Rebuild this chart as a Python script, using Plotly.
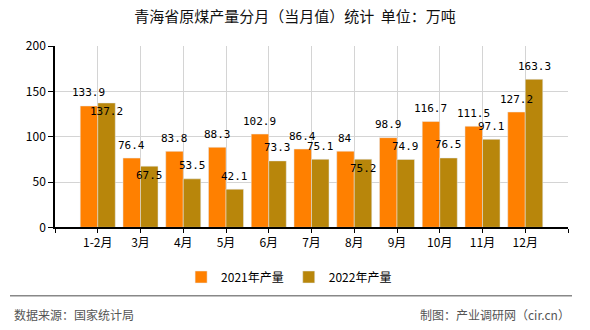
import plotly.graph_objects as go

categories = ["1-2月", "3月", "4月", "5月", "6月", "7月", "8月", "9月", "10月", "11月", "12月"]
prod_2021 = [133.9, 76.4, 83.8, 88.3, 102.9, 86.4, 84, 98.9, 116.7, 111.5, 127.2]
prod_2022 = [137.2, 67.5, 53.5, 42.1, 73.3, 75.1, 75.2, 74.9, 76.5, 97.1, 163.3]
series_names = ["2021年产量", "2022年产量"]
y_ticks = [0, 50, 100, 150, 200]

# label placement (style): labels drawn under the bar top for these 2022 points
below_2022 = {0, 1, 6}

W, H = 590, 330
L, R, T, B = 55, 22, 46, 101
pw, ph = W - L - R, H - T - B

def px_x(px):
    return (px - L) / pw

def px_y(py):
    return (H - B - py) / ph

xs = list(range(len(categories)))
c1, c2 = "#FF8000", "#B8860B"
cjk = "Noto Sans CJK SC"
mono = "DejaVu Sans Mono"

fig = go.Figure()
fig.add_trace(go.Bar(x=xs, y=prod_2021, name=series_names[0], marker_color=c1,
                     offsetgroup="a"))
fig.add_trace(go.Bar(x=xs, y=prod_2022, name=series_names[1], marker_color=c2,
                     offsetgroup="b"))

bargap = 0.18
half = (1 - bargap) / 4
annotations = []
for i, v in enumerate(prod_2021):
    annotations.append(dict(x=i - half, y=v, xref="x", yref="y", text=str(v),
                            showarrow=False, yshift=13, yanchor="middle",
                            font=dict(family=mono, size=11, color="#000")))
for i, v in enumerate(prod_2022):
    annotations.append(dict(x=i + half, y=v, xref="x", yref="y", text=str(v),
                            showarrow=False, yshift=(-9 if i in below_2022 else 13),
                            yanchor="middle",
                            font=dict(family=mono, size=11, color="#000")))

annotations.append(dict(x=px_x(12), y=px_y(317), xref="paper", yref="paper",
                        text="数据来源：国家统计局", showarrow=False,
                        xanchor="left", yanchor="middle",
                        font=dict(family=cjk, size=12, color="#555")))
annotations.append(dict(x=px_x(572), y=px_y(317), xref="paper", yref="paper",
                        text="制图：产业调研网（cir.cn）", showarrow=False,
                        xanchor="right", yanchor="middle",
                        font=dict(family=cjk, size=12, color="#555")))

shapes = [dict(type="line", xref="paper", yref="paper", x0=px_x(10), x1=px_x(572),
               y0=px_y(298), y1=px_y(298), line=dict(color="#888", width=1.5))]

fig.update_layout(
    width=W, height=H,
    margin=dict(l=L, r=R, t=T, b=B),
    paper_bgcolor="white", plot_bgcolor="white",
    barmode="group", bargap=bargap, bargroupgap=0,
    title=dict(text="青海省原煤产量分月（当月值）统计&nbsp;&nbsp;单位：万吨",
               x=0.5, xanchor="center", y=1 - 17 / H, yanchor="middle",
               yref="container",
               font=dict(family=cjk, size=15, color="#111")),
    showlegend=True,
    legend=dict(orientation="h", x=0.49, xanchor="center", xref="container",
                y=1 - 277 / H, yanchor="middle", yref="container",
                font=dict(family=cjk, size=12, color="#000"),
                itemwidth=30, traceorder="normal"),
    annotations=annotations,
    shapes=shapes,
)

fig.update_xaxes(
    range=[-1, len(categories)],
    tickmode="array",
    tickvals=list(range(-1, len(categories) + 1)),
    ticktext=[""] + categories + [""],
    showgrid=True, gridcolor="#d4d4d4", gridwidth=1,
    showline=True, linecolor="#000", linewidth=1.5,
    ticks="outside", ticklen=4, tickcolor="#000",
    tickfont=dict(family=cjk, size=12, color="#000"),
    zeroline=False,
)
fig.update_yaxes(
    range=[0, 200],
    tickmode="array", tickvals=y_ticks,
    showgrid=True, gridcolor="#d4d4d4", gridwidth=1,
    showline=True, linecolor="#000", linewidth=1.5,
    ticks="outside", ticklen=5, tickcolor="#000",
    tickfont=dict(family=cjk, size=12, color="#000"),
    zeroline=False,
)

fig.write_html("out.html")
